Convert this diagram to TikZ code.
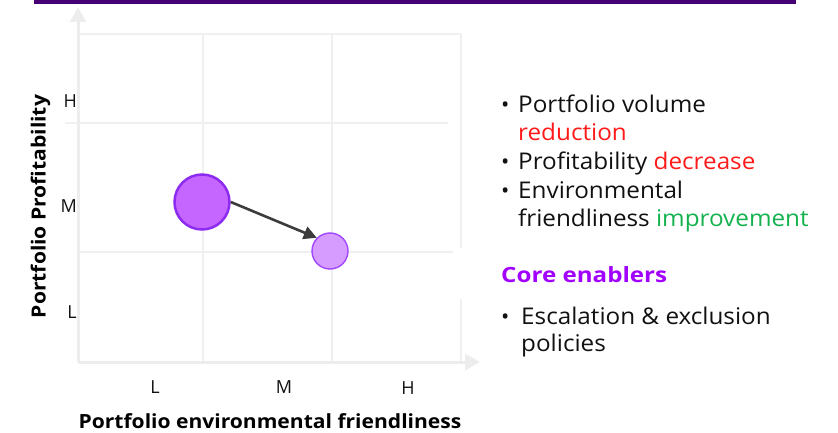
\documentclass[tikz,border=0pt]{standalone}
\usepackage{fontspec}
\setmainfont{Open Sans}
\newfontfamily\bodyfont[FakeStretch=1.055]{Open Sans}
\newfontfamily\titlefont[FakeStretch=1.08]{Open Sans}
\newfontfamily\corefont[FakeStretch=1.15]{Open Sans}
\usetikzlibrary{arrows.meta}
\definecolor{barpurple}{HTML}{460073}
\definecolor{gridgrey}{HTML}{F0F0F0}
\definecolor{axisgrey}{HTML}{EDEDED}
\definecolor{bigfill}{HTML}{C466FF}
\definecolor{bigline}{HTML}{8E2BF0}
\definecolor{smallfill}{HTML}{D79CFF}
\definecolor{smallline}{HTML}{A047FF}
\definecolor{arrowgrey}{HTML}{3C3C3C}
\definecolor{txtred}{HTML}{FF1A1A}
\definecolor{txtgreen}{HTML}{14B24E}
\definecolor{corepurple}{HTML}{A100FF}
\definecolor{txtblack}{HTML}{111111}
\tikzset{
  gridline/.style={draw=gridgrey, line width=1.6pt},
  axisline/.style={draw=axisgrey, line width=3pt, -{Triangle[length=15pt,width=16pt]}},
  ticklabel/.style={font=\fontsize{18}{22}\selectfont, text=txtblack, inner sep=0pt},
  axistitle/.style={font=\titlefont\bfseries\fontsize{19.5}{23}\selectfont, text=black, inner sep=0pt},
  bodytext/.style={font=\bodyfont\fontsize{23}{27}\selectfont, text=txtblack, inner sep=0pt, anchor=base west},
  bullet/.style={font=\fontsize{22}{27}\selectfont, text=txtblack, inner sep=0pt, anchor=base west},
}
\begin{document}
\begin{tikzpicture}[x=1pt,y=-1pt]
\useasboundingbox (0,0) rectangle (838,433);
% top bar
\fill[barpurple] (34,0) rectangle (796,4);
% grid
\draw[gridline] (79,34) -- (461,34);
\draw[gridline] (65,123) -- (448,123);
\draw[gridline] (80,252) -- (453,252);
\draw[gridline] (203,34) -- (203,362);
\draw[gridline] (332,34) -- (332,362);
\draw[gridline] (461,34) -- (461,248);
\draw[gridline] (461,299) -- (461,362);
% axes
\coordinate (O) at (78,362);
\coordinate (ytop) at (78,7);
\coordinate (xend) at (480,362);
\draw[axisline] (O) -- (ytop);
\draw[axisline] (O) -- (xend);
% tick labels
\node[ticklabel, anchor=base east] (yH) at (77,108) {H};
\node[ticklabel, anchor=base east] (yM) at (77,212) {M};
\node[ticklabel, anchor=base east] (yL) at (77,318) {L};
\node[ticklabel, anchor=base] (xL) at (155,393) {L};
\node[ticklabel, anchor=base] (xM) at (284,393) {M};
\node[ticklabel, anchor=base] (xH) at (408,394) {H};
% axis titles
\node[axistitle, anchor=base] (xtitle) at (270,428) {Portfolio environmental friendliness};
\node[axistitle, rotate=90, anchor=base] (ytitle) at (45.5,206.5) {Portfolio Profitability};
% bubbles
\node[circle, minimum size=55pt, inner sep=0pt, fill=bigfill, draw=bigline, line width=2.5pt] (big) at (202,202) {};
\node[circle, minimum size=36pt, inner sep=0pt, fill=smallfill, draw=smallline, line width=1.4pt] (small) at (330,251) {};
\draw[draw=arrowgrey, line width=2.6pt, -{Triangle[length=13pt,width=13pt]}] (big.east) -- (small.north west);
% right text
\node[bullet] (b1) at (501,112.5) {•};
\node[bodytext] (t1a) at (518,112.5) {Portfolio volume};
\node[bodytext, text=txtred] (t1b) at (518,141) {reduction};
\node[bullet] (b2) at (501,169.5) {•};
\node[bodytext] (t2) at (518,169.5) {Profitability \textcolor{txtred}{decrease}};
\node[bullet] (b3) at (501,198) {•};
\node[bodytext] (t3a) at (518,198) {Environmental};
\node[bodytext] (t3b) at (518,226.7) {friendliness \textcolor{txtgreen}{improvement}};
\node[font=\corefont\bfseries\fontsize{21}{25}\selectfont, text=corepurple, inner sep=0pt, anchor=base west] (core) at (501,282.7) {Core enablers};
\node[bullet] (b4) at (501,324.3) {•};
\node[bodytext] (t4a) at (521,324.3) {Escalation \& exclusion};
\node[bodytext] (t4b) at (521,351.7) {policies};
\end{tikzpicture}
\end{document}
